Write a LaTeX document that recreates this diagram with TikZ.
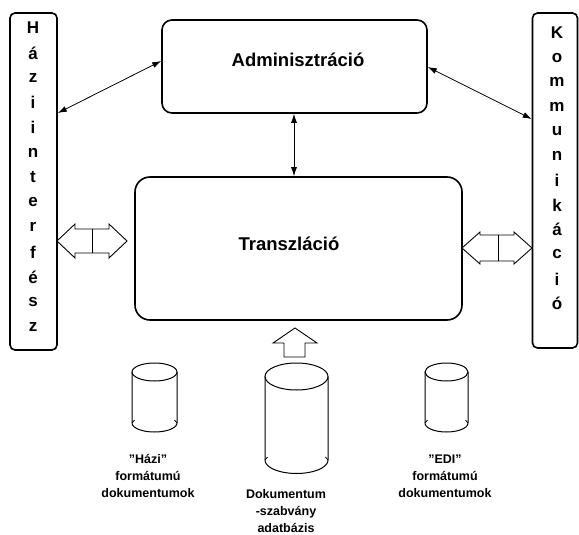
\documentclass[tikz,border=0pt]{standalone}
\usepackage{fontspec}
\setmainfont{Liberation Sans}
\usetikzlibrary{arrows.meta,calc}

\tikzset{
  box/.style={draw,line width=1.6pt,rounded corners=#1},
  box/.default=10pt,
  conn/.style={line width=0.8pt,{Latex[length=9pt,width=6pt]}-{Latex[length=9pt,width=6pt]}},
  hollow/.style={draw,line width=0.9pt,fill=white,line join=miter},
  lbl/.style={font=\bfseries\fontsize{12.5}{17}\selectfont,align=center}
}

\begin{document}
\begin{tikzpicture}[x=1pt,y=-1pt]
\useasboundingbox (0,0) rectangle (579,535);

% side bars
\node[box=5pt,minimum width=47pt,minimum height=337pt] (hazi) at (33.5,181.5) {};
\node[box=5pt,minimum width=45pt,minimum height=335pt] (komm) at (555,180.5) {};
\foreach \l [count=\i] in {H,á,z,i,i,n,t,e,r,f,é,s,z}{
  \node[font=\bfseries\fontsize{17}{17}\selectfont] (h\i) at (33,{28+24.9*(\i-1)}) {\l};
}
\foreach \l [count=\i] in {K,o,m,m,u,n,i,k,á,c,i,ó}{
  \node[font=\bfseries\fontsize{17}{17}\selectfont] (k\i) at (557,{33+24.6*(\i-1)}) {\l};
}

% main boxes
\node[box=10pt,minimum width=265pt,minimum height=93pt] (admin) at (294.5,66.5) {};
\node[font=\bfseries\fontsize{18.5}{18.5}\selectfont] (admintxt) at (298,60) {Adminisztráció};
\node[box=15pt,minimum width=327pt,minimum height=143pt] (transl) at (298.5,248.5) {};
\node[font=\bfseries\fontsize{18.5}{18.5}\selectfont] (transltxt) at (289,244) {Transzláció};

% arrows
\draw[conn] (hazi.east |- 0,113) -- (admin.west |- 0,61);
\draw[conn] (admin.east |- 0,67) -- (komm.west |- 0,119);
\draw[conn] (admin.south -| 294,0) -- (transl.north -| 294,0);

% hollow double arrows
\draw[hollow] (57,241) -- (75,224) -- (75,229) -- (109,229) -- (109,224) -- (127,241)
  -- (109,258) -- (109,253) -- (75,253) -- (75,258) -- cycle;
\draw[line width=0.9pt] (92,229) -- (92,253);
\draw[hollow] (462,248) -- (480,232) -- (480,235) -- (514,235) -- (514,232) -- (532,248)
  -- (514,264) -- (514,261) -- (480,261) -- (480,264) -- cycle;
\draw[line width=0.9pt] (498,235) -- (498,261);

% up arrow
\draw[hollow] (295,328) -- (317,343) -- (305,343) -- (305,357) -- (284,357) -- (284,343)
  -- (273,343) -- cycle;

% databases
\foreach \cx/\rx/\yt/\yb/\ry/\nm in {154.5/22.5/372/423/9/db1,296.5/31.5/376.5/460/13.5/db2,446.5/21.5/372/423/9/db3}{
  \coordinate (\nm) at (\cx,\yt);
  \draw[line width=1pt] (\cx,\yt) ellipse ({\rx pt} and {\ry pt});
  \draw[line width=1pt] (\cx-\rx,\yt) -- (\cx-\rx,\yb)
    -- plot[domain=180:360,samples=31,smooth] ({\cx+\rx*cos(\x)},{\yb-\ry*sin(\x)})
    -- (\cx+\rx,\yt);
  \draw[line width=0.8pt] (\cx-\rx,\yb) -- ++(2.5,-3);
  \draw[line width=0.8pt] (\cx+\rx,\yb) -- ++(-2.5,-3);
}

% labels
\node[lbl] (l1) at (148,476) {\symbol{34}Házi\symbol{34}\\formátumú\\dokumentumok};
\node[lbl] (l2) at (286,511) {Dokumentum\\-szabvány\\adatbázis};
\node[lbl] (l3) at (445,476) {\symbol{34}EDI\symbol{34}\\formátumú\\dokumentumok};
\end{tikzpicture}
\end{document}
